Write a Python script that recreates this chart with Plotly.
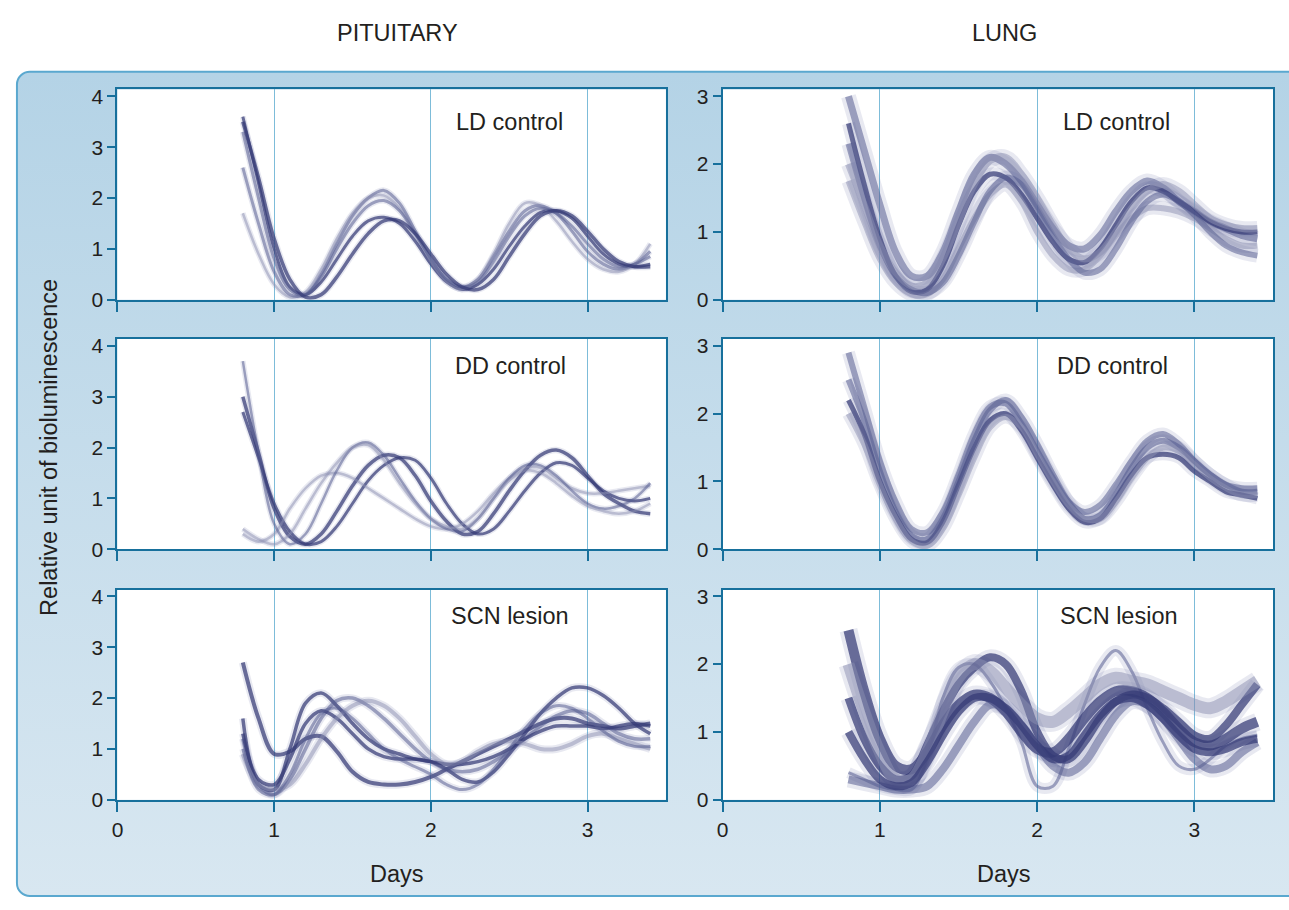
import base64
import plotly.graph_objects as go

# ---------------- data ----------------
DAYS = [0.8, 0.9, 1.0, 1.1, 1.2, 1.3, 1.4, 1.5, 1.6, 1.7, 1.8, 1.9, 2.0, 2.1,
        2.2, 2.3, 2.4, 2.5, 2.6, 2.7, 2.8, 2.9, 3.0, 3.1, 3.2, 3.3, 3.4]

X_TICKS = [0, 1, 2, 3]
PIT_Y_TICKS = [0, 1, 2, 3, 4]
LUNG_Y_TICKS = [0, 1, 2, 3]

COLUMN_TITLES = ["PITUITARY", "LUNG"]
CONDITION_LABELS = ["LD control", "DD control", "SCN lesion"]
X_TITLE = "Days"
Y_TITLE = "Relative unit of bioluminescence"

# Pituitary, LD control
PIT_LD_1 = [3.6, 2.3, 1.0, 0.25, 0.1, 0.35, 0.8, 1.25, 1.55, 1.62, 1.5, 1.15, 0.7, 0.35,
            0.2, 0.3, 0.6, 1.05, 1.45, 1.72, 1.75, 1.6, 1.25, 0.9, 0.7, 0.65, 0.7]
PIT_LD_2 = [3.3, 2.0, 0.8, 0.2, 0.1, 0.5, 1.1, 1.65, 2.0, 2.15, 1.9, 1.35, 0.8, 0.4,
            0.25, 0.4, 0.85, 1.35, 1.75, 1.85, 1.7, 1.35, 0.95, 0.7, 0.6, 0.7, 0.95]
PIT_LD_3 = [1.7, 0.9, 0.3, 0.05, 0.15, 0.6, 1.2, 1.7, 2.0, 2.05, 1.8, 1.3, 0.75, 0.35,
            0.2, 0.4, 0.9, 1.5, 1.9, 1.85, 1.55, 1.15, 0.8, 0.6, 0.55, 0.7, 1.1]
PIT_LD_4 = [2.6, 1.5, 0.55, 0.1, 0.1, 0.45, 1.0, 1.5, 1.85, 1.95, 1.75, 1.3, 0.8, 0.4,
            0.25, 0.35, 0.75, 1.25, 1.65, 1.8, 1.7, 1.45, 1.1, 0.8, 0.65, 0.7, 0.85]
PIT_LD_5 = [3.5, 2.4, 1.2, 0.4, 0.05, 0.1, 0.45, 0.9, 1.3, 1.55, 1.55, 1.3, 0.9, 0.5,
            0.25, 0.2, 0.4, 0.85, 1.3, 1.65, 1.75, 1.65, 1.35, 1.0, 0.75, 0.65, 0.65]

# Lung, LD control
LUNG_LD_1 = [3.0, 2.2, 1.4, 0.7, 0.35, 0.35, 0.7, 1.3, 1.85, 2.1, 2.0, 1.75, 1.4, 1.05,
             0.8, 0.75, 0.95, 1.3, 1.6, 1.75, 1.65, 1.45, 1.3, 1.15, 1.05, 0.95, 0.9]
LUNG_LD_2 = [2.6, 1.7, 0.9, 0.35, 0.12, 0.15, 0.5, 1.1, 1.6, 1.85, 1.8, 1.55, 1.2, 0.85,
             0.6, 0.55, 0.75, 1.1, 1.45, 1.65, 1.6, 1.45, 1.3, 1.15, 1.05, 1.0, 1.0]
LUNG_LD_3 = [1.75, 1.15, 0.6, 0.25, 0.08, 0.08, 0.3, 0.75, 1.2, 1.55, 1.7, 1.45, 1.0, 0.65,
             0.45, 0.45, 0.65, 0.95, 1.2, 1.35, 1.35, 1.3, 1.2, 1.05, 0.9, 0.8, 0.8]
LUNG_LD_4 = [2.3, 1.5, 0.8, 0.35, 0.15, 0.1, 0.25, 0.65, 1.15, 1.6, 1.8, 1.7, 1.35, 0.95,
             0.6, 0.4, 0.45, 0.75, 1.15, 1.45, 1.55, 1.45, 1.25, 1.0, 0.8, 0.7, 0.65]
LUNG_LD_5 = [2.0, 1.4, 0.8, 0.4, 0.2, 0.25, 0.6, 1.15, 1.7, 2.05, 2.1, 1.85, 1.5, 1.1,
             0.75, 0.6, 0.7, 1.0, 1.35, 1.6, 1.7, 1.6, 1.4, 1.2, 1.1, 1.05, 1.05]

# Pituitary, DD control
PIT_DD_1 = [3.0, 1.9, 0.8, 0.25, 0.1, 0.3, 0.75, 1.25, 1.65, 1.85, 1.8, 1.45, 0.95, 0.55,
            0.3, 0.35, 0.7, 1.15, 1.55, 1.85, 1.95, 1.8, 1.45, 1.1, 0.9, 0.75, 0.7]
PIT_DD_2 = [2.7, 1.8, 0.9, 0.35, 0.1, 0.15, 0.45, 0.9, 1.35, 1.65, 1.8, 1.75, 1.4, 0.9,
            0.5, 0.3, 0.4, 0.75, 1.15, 1.5, 1.7, 1.65, 1.4, 1.15, 1.0, 0.95, 1.0]
PIT_DD_3 = [0.3, 0.15, 0.3, 0.8, 1.2, 1.45, 1.5, 1.4, 1.2, 1.0, 0.8, 0.6, 0.45, 0.4,
            0.5, 0.75, 1.1, 1.4, 1.6, 1.6, 1.4, 1.2, 1.1, 1.1, 1.15, 1.2, 1.25]
PIT_DD_4 = [3.7, 1.9, 0.5, 0.1, 0.3, 0.9, 1.55, 2.0, 2.1, 1.85, 1.4, 0.95, 0.6, 0.4,
            0.35, 0.6, 1.0, 1.4, 1.65, 1.65, 1.45, 1.15, 0.9, 0.8, 0.85, 1.0, 1.3]
PIT_DD_5 = [0.4, 0.2, 0.1, 0.3, 0.8, 1.3, 1.7, 2.0, 2.05, 1.75, 1.3, 0.9, 0.6, 0.45,
            0.4, 0.6, 1.0, 1.35, 1.55, 1.5, 1.3, 1.05, 0.85, 0.75, 0.7, 0.75, 0.9]

# Lung, DD control
LUNG_DD_1 = [2.9, 2.1, 1.3, 0.7, 0.3, 0.25, 0.55, 1.1, 1.7, 2.1, 2.15, 1.85, 1.45, 1.05,
             0.7, 0.55, 0.65, 0.95, 1.3, 1.6, 1.7, 1.55, 1.3, 1.1, 0.95, 0.85, 0.85]
LUNG_DD_2 = [2.2, 1.7, 1.0, 0.5, 0.15, 0.1, 0.4, 0.95, 1.5, 1.9, 2.0, 1.75, 1.35, 0.95,
             0.6, 0.4, 0.45, 0.75, 1.1, 1.35, 1.4, 1.35, 1.15, 1.0, 0.85, 0.8, 0.75]
LUNG_DD_3 = [2.5, 1.9, 1.15, 0.55, 0.2, 0.15, 0.45, 1.0, 1.6, 2.05, 2.2, 1.95, 1.55, 1.1,
             0.7, 0.45, 0.5, 0.8, 1.2, 1.5, 1.6, 1.5, 1.3, 1.1, 0.95, 0.9, 0.9]
LUNG_DD_4 = [2.0, 1.55, 0.95, 0.45, 0.12, 0.05, 0.3, 0.8, 1.35, 1.8, 1.95, 1.8, 1.4, 1.0,
             0.65, 0.45, 0.45, 0.7, 1.05, 1.35, 1.5, 1.45, 1.25, 1.05, 0.9, 0.8, 0.8]

# Pituitary, SCN lesion
PIT_SCN_1 = [2.7, 1.6, 0.9, 0.95, 1.2, 1.25, 0.95, 0.55, 0.35, 0.3, 0.3, 0.35, 0.45, 0.6,
             0.75, 0.9, 1.05, 1.2, 1.35, 1.5, 1.6, 1.6, 1.5, 1.45, 1.4, 1.45, 1.5]
PIT_SCN_2 = [1.6, 0.3, 0.2, 1.0, 1.9, 2.1, 1.85, 1.5, 1.2, 1.0, 0.9, 0.8, 0.75, 0.6,
             0.4, 0.35, 0.55, 0.9, 1.3, 1.7, 2.0, 2.2, 2.2, 2.05, 1.8, 1.5, 1.3]
PIT_SCN_3 = [1.2, 0.3, 0.1, 0.4, 1.0, 1.6, 1.95, 2.0, 1.85, 1.6, 1.3, 1.0, 0.75, 0.6,
             0.55, 0.6, 0.75, 0.95, 1.2, 1.45, 1.65, 1.75, 1.7, 1.5, 1.3, 1.2, 1.2]
PIT_SCN_4 = [1.3, 0.4, 0.3, 0.8, 1.5, 1.75, 1.6, 1.3, 1.0, 0.85, 0.8, 0.8, 0.75, 0.7,
             0.7, 0.75, 0.85, 1.0, 1.2, 1.35, 1.45, 1.45, 1.45, 1.4, 1.45, 1.5, 1.45]
PIT_SCN_5 = [0.9, 0.3, 0.2, 0.3, 0.7, 1.2, 1.6, 1.85, 1.95, 1.85, 1.6, 1.25, 0.9, 0.7,
             0.75, 0.95, 1.1, 1.15, 1.1, 1.0, 1.0, 1.1, 1.25, 1.3, 1.2, 1.1, 1.0]
PIT_SCN_6 = [1.0, 0.2, 0.1, 0.5, 1.2, 1.7, 1.8, 1.6, 1.3, 1.0, 0.8, 0.65, 0.5, 0.3,
             0.2, 0.3, 0.6, 1.0, 1.4, 1.7, 1.85, 1.8, 1.6, 1.35, 1.15, 1.05, 1.05]

# Lung, SCN lesion
LUNG_SCN_1 = [0.4, 0.3, 0.2, 0.15, 0.15, 0.6, 1.5, 1.95, 2.0, 1.75, 1.35, 0.85, 0.2, 0.2,
              0.75, 1.4, 1.95, 2.2, 1.9, 1.35, 0.85, 0.5, 0.45, 0.6, 0.8, 0.9, 0.95]
LUNG_SCN_2 = [2.5, 1.6, 0.9, 0.5, 0.45, 0.7, 1.1, 1.4, 1.55, 1.5, 1.3, 1.0, 0.75, 0.7,
              0.9, 1.2, 1.45, 1.6, 1.6, 1.5, 1.3, 1.05, 0.85, 0.8, 0.9, 1.05, 1.15]
LUNG_SCN_3 = [1.5, 0.9, 0.5, 0.3, 0.35, 0.8, 1.3, 1.7, 1.95, 2.1, 2.0, 1.6, 1.0, 0.65,
              0.6, 0.85, 1.2, 1.45, 1.55, 1.5, 1.35, 1.15, 0.95, 0.9, 1.1, 1.4, 1.7]
LUNG_SCN_4 = [0.3, 0.25, 0.2, 0.15, 0.15, 0.2, 0.45, 0.8, 1.15, 1.4, 1.35, 1.1, 0.8, 0.5,
              0.4, 0.55, 0.9, 1.25, 1.45, 1.4, 1.2, 0.9, 0.6, 0.45, 0.5, 0.7, 0.85]
LUNG_SCN_5 = [2.0, 1.3, 0.7, 0.3, 0.3, 0.7, 1.3, 1.8, 2.0, 1.9, 1.65, 1.4, 1.2, 1.15,
              1.3, 1.5, 1.7, 1.8, 1.75, 1.7, 1.6, 1.5, 1.4, 1.35, 1.45, 1.6, 1.75]
LUNG_SCN_6 = [1.0, 0.6, 0.3, 0.2, 0.25, 0.55, 0.95, 1.3, 1.5, 1.5, 1.35, 1.1, 0.8, 0.6,
              0.65, 0.95, 1.25, 1.45, 1.5, 1.4, 1.2, 0.95, 0.75, 0.7, 0.75, 0.85, 0.9]

# ---------------- styling ----------------
DARK = "rgba(52,58,118,0.72)"
MID = "rgba(88,94,145,0.55)"
LIGHT = "rgba(140,144,178,0.5)"
HALO = "rgba(110,116,165,0.16)"
AXIS_COLOR = "#17709c"
GRID_COLOR = "#7dbcd9"
TEXT_COLOR = "#231f20"
FONT = "Liberation Sans, Arial, Helvetica, sans-serif"
LABEL_SIZE = 23.5
TICK_SIZE = 21

W, H = 1289, 910

panels = [
    ([PIT_LD_1, PIT_LD_2, PIT_LD_3, PIT_LD_4, PIT_LD_5],
     [(DARK, 3), (MID, 3), (LIGHT, 2.5), (MID, 3), (DARK, 3.5)], 3),
    ([LUNG_LD_1, LUNG_LD_2, LUNG_LD_3, LUNG_LD_4, LUNG_LD_5],
     [(MID, 7), (DARK, 5), (LIGHT, 6), (MID, 6), (LIGHT, 7)], 8),
    ([PIT_DD_1, PIT_DD_2, PIT_DD_3, PIT_DD_4, PIT_DD_5],
     [(DARK, 3.5), (DARK, 3), (LIGHT, 2.5), (MID, 2.5), (LIGHT, 2.5)], 3),
    ([LUNG_DD_1, LUNG_DD_2, LUNG_DD_3, LUNG_DD_4],
     [(MID, 6), (DARK, 5), (MID, 6), (LIGHT, 6)], 7),
    ([PIT_SCN_1, PIT_SCN_2, PIT_SCN_3, PIT_SCN_4, PIT_SCN_5, PIT_SCN_6],
     [(DARK, 4), (DARK, 3.5), (MID, 3.5), (DARK, 3.5), (LIGHT, 4), (MID, 3)], 4),
    ([LUNG_SCN_1, LUNG_SCN_2, LUNG_SCN_3, LUNG_SCN_4, LUNG_SCN_5, LUNG_SCN_6],
     [(MID, 3), (DARK, 10), (DARK, 8), (MID, 8), (LIGHT, 12), (DARK, 8)], 8),
]

fig = go.Figure()
for i, (series, styles, halo) in enumerate(panels):
    ax = "" if i == 0 else str(i + 1)
    # soft halo underneath to mimic the fuzzy recorded traces
    for ys, (col, wd) in zip(series, styles):
        fig.add_trace(go.Scatter(
            x=DAYS, y=ys, mode="lines",
            line=dict(color=HALO, width=wd + halo, shape="spline", smoothing=1.0),
            xaxis="x" + ax, yaxis="y" + ax, hoverinfo="skip", showlegend=False))
    for ys, (col, wd) in zip(series, styles):
        fig.add_trace(go.Scatter(
            x=DAYS, y=ys, mode="lines",
            line=dict(color=col, width=wd, shape="spline", smoothing=1.0),
            xaxis="x" + ax, yaxis="y" + ax, hoverinfo="skip", showlegend=False))

# panel geometry in pixels
col_x = [(112, 663), (720, 1273)]
row_y = [(86, 300), (340, 554), (595, 809)]


def px_x(p):
    return p / W


def px_y(p):
    return 1 - p / H


layout = dict(
    width=W, height=H, margin=dict(l=0, r=0, t=0, b=0),
    paper_bgcolor="white", plot_bgcolor="white",
    font=dict(family=FONT, size=TICK_SIZE, color=TEXT_COLOR),
    showlegend=False, hovermode=False,
)

shapes = []
for i in range(6):
    r, c = divmod(i, 2)
    ax = "" if i == 0 else str(i + 1)
    x0, x1 = col_x[c]
    y0, y1 = row_y[r]
    layout["xaxis" + ax] = dict(
        domain=[px_x(x0), px_x(x1)], anchor="y" + ax, range=[0, 3.5],
        tickvals=X_TICKS, showticklabels=(r == 2),
        ticks="outside", ticklen=10, tickwidth=2, tickcolor=AXIS_COLOR,
        showline=True, linecolor=AXIS_COLOR, linewidth=2, mirror=True,
        showgrid=True, gridcolor=GRID_COLOR, gridwidth=1, zeroline=False,
        tickfont=dict(size=TICK_SIZE, color=TEXT_COLOR), fixedrange=True,
    )
    top = 4.135 if c == 0 else 3.10
    layout["yaxis" + ax] = dict(
        domain=[px_y(y1), px_y(y0)], anchor="x" + ax, range=[0, top],
        tickvals=PIT_Y_TICKS if c == 0 else LUNG_Y_TICKS,
        ticks="outside", ticklen=8, tickwidth=2, tickcolor=AXIS_COLOR,
        showline=True, linecolor=AXIS_COLOR, linewidth=2, mirror=True,
        showgrid=False, zeroline=False,
        tickfont=dict(size=TICK_SIZE, color=TEXT_COLOR), fixedrange=True,
    )
    shapes.append(dict(type="rect", xref="paper", yref="paper", layer="below",
                       x0=px_x(x0), x1=px_x(x1), y0=px_y(y1), y1=px_y(y0),
                       fillcolor="white", line=dict(width=0)))

# rounded, gradient-filled background panel as an inline SVG image
svg = f'''<svg xmlns="http://www.w3.org/2000/svg" width="{W}" height="{H}" viewBox="0 0 {W} {H}" preserveAspectRatio="none">
<defs><linearGradient id="g" x1="0" y1="0" x2="0" y2="1">
<stop offset="0" stop-color="#b4d3e6"/><stop offset="1" stop-color="#d8e7f1"/></linearGradient></defs>
<rect x="11" y="68" width="1320" height="839" rx="13" ry="13" fill="url(#g)" stroke="#5aa8cf" stroke-width="2"/>
</svg>'''
src = "data:image/svg+xml;base64," + base64.b64encode(svg.encode()).decode()
layout["images"] = [dict(source=src, xref="paper", yref="paper", x=0, y=1,
                         sizex=1, sizey=1, xanchor="left", yanchor="top",
                         sizing="stretch", layer="below")]
layout["shapes"] = shapes

ann = []
ann.append(dict(text=COLUMN_TITLES[0], x=px_x(393), y=px_y(28)))
ann.append(dict(text=COLUMN_TITLES[1], x=px_x(1003), y=px_y(28)))
label_pos = [(506, 119), (1116, 119), (507, 367), (1112, 367), (506, 622), (1118, 622)]
for i, (lx, ly) in enumerate(label_pos):
    ann.append(dict(text=CONDITION_LABELS[i // 2], x=px_x(lx), y=px_y(ly)))
ann.append(dict(text=X_TITLE, x=px_x(393), y=px_y(885)))
ann.append(dict(text=X_TITLE, x=px_x(1003), y=px_y(885)))
ann.append(dict(text=Y_TITLE, x=px_x(43), y=px_y(450), textangle=-90))
for a in ann:
    a.update(xref="paper", yref="paper", showarrow=False, xanchor="center",
             yanchor="middle", font=dict(size=LABEL_SIZE, color=TEXT_COLOR, family=FONT))
layout["annotations"] = ann

fig.update_layout(**layout)
fig.write_html("out.html", config={"displayModeBar": False},
               post_script="document.body.style.margin='0';document.body.style.overflow='hidden';")
